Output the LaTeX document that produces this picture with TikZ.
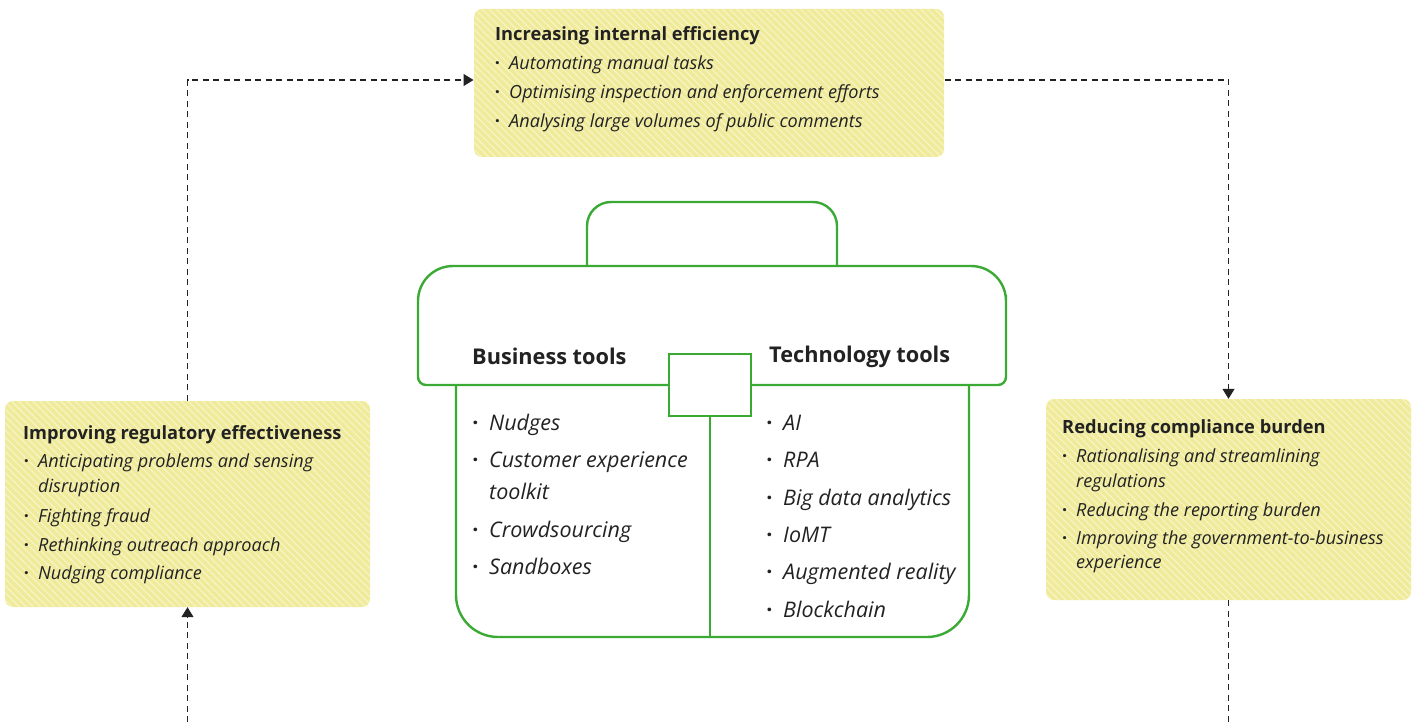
\documentclass[tikz,border=0pt]{standalone}
\usepackage{fontspec}
\setmainfont{Open Sans}
\usetikzlibrary{arrows.meta,patterns.meta}
\definecolor{gcol}{HTML}{3AAA35}
\definecolor{yfill}{HTML}{F0EB9B}
\definecolor{ystripe}{HTML}{F8F5CC}
\definecolor{tcol}{HTML}{222222}
\newcommand{\bul}{\llap{{\upshape\bfseries\textperiodcentered}\hspace{0.5em}}}
\tikzset{
  ybox/.style={rounded corners=8pt, draw=none, inner sep=0pt,
    preaction={fill=yfill},
    pattern={Lines[angle=-45,distance=5pt,line width=1pt]}, pattern color=ystripe},
  gline/.style={draw=gcol, line width=2.4pt},
  dashl/.style={draw=tcol, line width=1.4pt, dash pattern=on 6pt off 4.5pt},
  tip/.style={-{Triangle[length=10pt,width=12pt]}},
  txt/.style={inner sep=0pt, anchor=base west, text=tcol},
  ttl/.style={txt, font=\fontsize{18.25}{22}\selectfont\bfseries},
  itm/.style={txt, font=\fontsize{18.1}{21}\selectfont\itshape},
  bttl/.style={txt, font=\fontsize{21.7}{26}\selectfont\bfseries},
  bitm/.style={txt, font=\fontsize{21.5}{26}\selectfont\itshape},
}
\begin{document}
\begin{tikzpicture}[x=1pt,y=-1pt]
\useasboundingbox (0,0) rectangle (1416,722);

% yellow boxes
\node[ybox, minimum width=470pt, minimum height=148pt] (topbox) at (709,83) {};
\node[ybox, minimum width=365pt, minimum height=206pt] (leftbox) at (187.5,504) {};
\node[ybox, minimum width=365pt, minimum height=201pt] (rightbox) at (1228.5,499.5) {};

% top box text
\node[ttl] (t0) at (495,41) {Increasing internal efficiency};
\node[itm] (t1) at (509,70) {\bul Automating manual tasks};
\node[itm] (t2) at (509,99) {\bul Optimising inspection and enforcement efforts};
\node[itm] (t3) at (509,128) {\bul Analysing large volumes of public comments};

% left box text
\node[ttl] (l0) at (23,439) {Improving regulatory effectiveness};
\node[itm] (l1) at (38,467) {\bul Anticipating problems and sensing};
\node[itm] (l1b) at (38,492) {disruption};
\node[itm] (l2) at (38,522) {\bul Fighting fraud};
\node[itm] (l3) at (38,551) {\bul Rethinking outreach approach};
\node[itm] (l4) at (38,579) {\bul Nudging compliance};

% right box text
\node[ttl] (r0) at (1062,433) {Reducing compliance burden};
\node[itm] (r1) at (1076,462) {\bul Rationalising and streamlining};
\node[itm] (r1b) at (1076,487) {regulations};
\node[itm] (r2) at (1076,516) {\bul Reducing the reporting burden};
\node[itm] (r3) at (1076,544) {\bul Improving the government-to-business};
\node[itm] (r3b) at (1076,568) {experience};

% briefcase
\draw[gline, rounded corners=24pt] (587,266) -- (587,202) -- (837,202) -- (837,266);
\draw[gline, fill=white] (418,330) [rounded corners=35pt] -- (418,266) -- (1006,266) -- (1006,330)
  [rounded corners=8pt] -- (1006,385) -- (418,385) -- cycle;
\draw[gline] (456,385) [rounded corners=42pt] -- (456,637) -- (969,637) -- (969,385);
\node[draw=gcol, line width=2.4pt, fill=white, minimum width=82pt, minimum height=62pt, inner sep=0pt] (clasp) at (710,385) {};
\coordinate (cbot) at (710,637);
\draw[gline] (clasp.south) -- (cbot);

\node[bttl] (b0) at (472,364) {Business tools};
\node[bttl] (c0) at (769,362) {Technology tools};

\node[bitm] (b1) at (489,430) {\bul Nudges};
\node[bitm] (b2) at (489,467) {\bul Customer experience};
\node[bitm] (b2b) at (489,499) {toolkit};
\node[bitm] (b3) at (489,537) {\bul Crowdsourcing};
\node[bitm] (b4) at (489,574) {\bul Sandboxes};

\node[bitm] (c1) at (783,430) {\bul AI};
\node[bitm] (c2) at (783,467) {\bul RPA};
\node[bitm] (c3) at (783,505) {\bul Big data analytics};
\node[bitm] (c4) at (783,542) {\bul IoMT};
\node[bitm] (c5) at (783,579) {\bul Augmented reality};
\node[bitm] (c6) at (783,617) {\bul Blockchain};

% connectors
\draw[dashl, tip] (leftbox.north) |- ([yshift=3pt]topbox.west);
\draw[dashl, tip] ([yshift=3pt]topbox.east) -| (rightbox.north);
\coordinate (rbot) at (1228.5,722);
\coordinate (lbot) at (187.5,722);
\draw[dashl] (rightbox.south) -- (rbot);
\draw[dashl, tip] (lbot) -- (leftbox.south);
\end{tikzpicture}
\end{document}
